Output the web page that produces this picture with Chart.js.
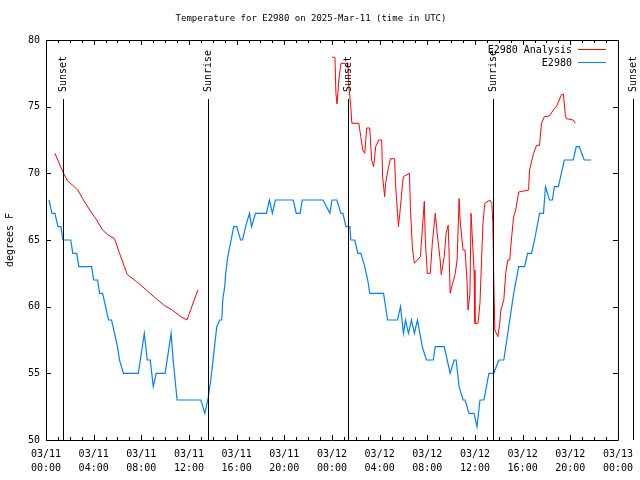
<!DOCTYPE html>
<html>
<head>
<meta charset="utf-8">
<script src="https://cdn.jsdelivr.net/npm/chart.js@4"></script>
<style>
  html, body { margin: 0; padding: 0; background: #fff; }
  canvas { display: block; }
</style>
</head>
<body>
<canvas id="chart" width="640" height="480"></canvas>
<script>
// hours since 03/11 00:00 UTC
const blueHours = [
  0.25, 0.5, 0.75, 1.0, 1.25, 1.42, 2.08, 2.25, 2.58, 2.75,
  3.83, 4.0, 4.33, 4.5, 4.75, 5.0, 5.25, 5.5, 5.75, 6.0,
  6.17, 6.5, 7.75, 8.25, 8.5, 8.75, 9.0, 9.25, 10.0, 10.5,
  10.67, 11.0, 13.0, 13.33, 13.58, 13.83, 14.08, 14.33, 14.58, 14.75,
  14.83, 15.0, 15.08, 15.25, 15.42, 15.58, 15.75, 16.0, 16.33, 16.5,
  16.75, 17.08, 17.25, 17.58, 18.5, 18.75, 19.0, 19.25, 20.75, 21.0,
  21.33, 21.5, 23.25, 23.83, 24.0, 24.42, 24.75, 24.92, 25.17, 25.5,
  25.58, 25.92, 26.17, 26.42, 26.75, 27.0, 27.17, 28.33, 28.67, 29.5,
  29.75, 30.0, 30.17, 30.42, 30.67, 30.92, 31.17, 31.58, 31.92, 32.5,
  32.67, 33.42, 33.67, 33.92, 34.25, 34.42, 34.67, 35.0, 35.17, 35.5,
  35.92, 36.17, 36.42, 36.75, 37.17, 37.58, 38.0, 38.42, 38.67, 38.92,
  39.25, 39.67, 40.17, 40.42, 40.75, 41.0, 41.42, 41.75, 41.92, 42.25,
  42.5, 42.67, 43.0, 43.5, 44.25, 44.5, 44.75, 45.17, 45.75
];
const blueTemps = [
  68, 67, 67, 66, 66, 65, 65, 64, 64, 63,
  63, 62, 62, 61, 61, 60, 59, 59, 58, 57,
  56, 55, 55, 58, 56, 56, 54, 55, 55, 58,
  56, 53, 53, 52, 53, 54.5, 56.5, 58.5, 59, 59,
  60.5, 61.5, 62.5, 63.7, 64.5, 65.2, 66, 66, 65, 65,
  66, 67, 66, 67, 67, 68, 67, 68, 68, 67,
  67, 68, 68, 67, 68, 68, 67, 67, 66, 66,
  65, 65, 64, 64, 63, 62, 61, 61, 59, 59,
  60, 58, 59, 58, 59, 58, 59, 57, 56, 56,
  57, 57, 56, 55, 56, 56, 54, 53, 53, 52,
  52, 51, 53, 53, 55, 55, 56, 56, 57.5, 59,
  61, 63, 63, 64, 64, 65, 67, 67, 69, 68,
  68, 69, 69, 71, 71, 72, 72, 71, 71
];

const redHours = [
  0.75, 1.42, 1.83, 2.25, 2.67, 3.08, 3.67, 4.25, 4.75, 5.17,
  5.75, 6.17, 6.58, 6.83, 7.58, 8.42, 9.25, 9.92, 10.58, 11.33,
  11.83, 12.75, 18.0, 24.0, 24.25, 24.33, 24.42, 24.58, 24.75, 25.08,
  25.25, 25.33, 25.42, 25.58, 25.67, 26.25, 26.42, 26.58, 26.75, 26.92,
  27.17, 27.33, 27.5, 27.67, 27.92, 28.17, 28.25, 28.42, 28.5, 28.75,
  28.92, 29.25, 29.33, 29.5, 29.58, 29.75, 29.92, 30.0, 30.5, 30.58,
  30.75, 30.92, 31.42, 31.58, 31.75, 31.83, 32.0, 32.25, 32.42, 32.67,
  32.83, 33.08, 33.17, 33.42, 33.58, 33.75, 33.83, 33.92, 34.08, 34.33,
  34.5, 34.67, 34.75, 35.0, 35.17, 35.33, 35.42, 35.58, 35.67, 35.92,
  36.0, 36.25, 36.42, 36.67, 36.83, 37.25, 37.42, 37.5, 37.58, 37.67,
  37.92, 38.08, 38.17, 38.42, 38.58, 38.75, 38.92, 39.08, 39.25, 39.42,
  39.67, 40.5, 40.58, 40.92, 41.17, 41.42, 41.58, 41.83, 42.25, 42.58,
  42.83, 43.08, 43.25, 43.42, 43.58, 43.67, 44.25, 44.42
];
const redTemps = [
  71.5, 70.1, 69.4, 69.1, 68.75, 68.1, 67.25, 66.5, 65.75, 65.4,
  65.1, 64, 63, 62.4, 61.9, 61.25, 60.6, 60.1, 59.75, 59.25,
  59, 61.25, null, 78.7, 78.7, 76, 75.2, 77, 78.25, 78.25,
  78.0, 78.25, 76.5, 75, 73.75, 73.75, 72.75, 71.75, 71.5, 73.4,
  73.4, 71, 70.5, 72, 72.5, 72.5, 69.75, 68.25, 69.25, 70.5,
  71.1, 71.1, 69.25, 67, 66, 67.5, 69.25, 69.75, 70, 67.5,
  64.4, 63.25, 63.75, 65.75, 67.9, 65, 62.5, 62.5, 64.75, 67,
  65.5, 63.5, 62.4, 63.75, 65.5, 66.1, 64, 61, 61.6, 62.4,
  63.5, 68.1, 66.5, 64.25, 64.25, 62, 59.75, 61, 67, 62.75,
  58.75, 58.75, 60.25, 66.25, 67.75, 68, 67.75, 66.25, 62, 58.25,
  57.75, 58.75, 59.75, 60.5, 62.5, 63.5, 63.5, 65.25, 66.75, 67.25,
  68.6, 68.75, 70.25, 71.5, 72.1, 72.1, 73.75, 74.25, 74.3, 74.75,
  75, 75.5, 75.9, 75.95, 74.4, 74.1, 74, 73.75
];

const sunHours = [1.42, 13.62, 25.33, 37.5, 49.3];
const sunLabels = ['Sunset', 'Sunrise', 'Sunset', 'Sunrise', 'Sunset'];
const dayLabels = ['03/11', '03/12', '03/13'];

const FONT = { family: '"DejaVu Sans Mono", monospace', size: 10 };
const CSS_FONT = '10px "DejaVu Sans Mono", monospace';

function hourLabel(v) {
  const day = dayLabels[Math.floor(v / 24)];
  const hh = String(v % 24).padStart(2, '0');
  return [day, hh + ':00'];
}

// box, inward ticks, sun lines, key
const gnuFrame = {
  id: 'gnuFrame',
  afterDatasetsDraw(chart) {
    const { ctx, chartArea: a, scales: { x } } = chart;
    ctx.save();
    ctx.strokeStyle = '#000';
    ctx.fillStyle = '#000';
    ctx.lineWidth = 1;
    ctx.font = CSS_FONT;
    sunHours.forEach((h, i) => {
      const px = Math.round(x.getPixelForValue(h)) + 0.5;
      ctx.beginPath();
      ctx.moveTo(px, a.top + 59);
      ctx.lineTo(px, a.bottom);
      ctx.stroke();
      ctx.save();
      ctx.translate(px, a.top + 52);
      ctx.rotate(-Math.PI / 2);
      ctx.textAlign = 'left';
      ctx.textBaseline = 'middle';
      ctx.fillText(sunLabels[i], 0, 0);
      ctx.restore();
    });
    ctx.restore();
  },
  afterDraw(chart) {
    const { ctx, chartArea: a, scales: { x, y } } = chart;
    ctx.save();
    ctx.strokeStyle = '#000';
    ctx.lineWidth = 1;
    ctx.beginPath();
    ctx.rect(a.left + 0.5, a.top + 0.5, a.right - a.left, a.bottom - a.top);
    for (let h = 0; h <= 48; h++) {
      const px = Math.round(x.getPixelForValue(h)) + 0.5;
      const len = h % 4 === 0 ? 5 : 3;
      ctx.moveTo(px, a.bottom);
      ctx.lineTo(px, a.bottom - len);
      ctx.moveTo(px, a.top);
      ctx.lineTo(px, a.top + len);
    }
    y.ticks.forEach(t => {
      const py = Math.round(y.getPixelForValue(t.value)) + 0.5;
      ctx.moveTo(a.left, py);
      ctx.lineTo(a.left + 5, py);
      ctx.moveTo(a.right, py);
      ctx.lineTo(a.right - 5, py);
    });
    ctx.stroke();

    // key
    ctx.font = CSS_FONT;
    ctx.textAlign = 'right';
    ctx.textBaseline = 'middle';
    chart.data.datasets.forEach((ds, i) => {
      const ky = a.top + 9 + i * 13;
      ctx.fillStyle = '#000';
      ctx.fillText(ds.label, a.right - 46, ky + 1);
      ctx.strokeStyle = ds.borderColor;
      ctx.beginPath();
      ctx.moveTo(a.right - 40, ky + 0.5);
      ctx.lineTo(a.right - 12, ky + 0.5);
      ctx.stroke();
    });
    ctx.restore();
  }
};

new Chart(document.getElementById('chart'), {
  type: 'line',
  data: {
    datasets: [
      {
        label: 'E2980 Analysis',
        data: redHours.map((h, i) => ({ x: h, y: redTemps[i] })),
        borderColor: '#ff0000',
        borderWidth: 1,
        pointRadius: 0,
        tension: 0,
        spanGaps: false
      },
      {
        label: 'E2980',
        data: blueHours.map((h, i) => ({ x: h, y: blueTemps[i] })),
        borderColor: '#0080ff',
        borderWidth: 1.2,
        pointRadius: 0,
        tension: 0
      }
    ]
  },
  options: {
    responsive: false,
    animation: false,
    layout: { padding: { left: 0, right: 18, top: 0, bottom: 0 } },
    plugins: {
      legend: { display: false },
      tooltip: { enabled: false },
      title: {
        display: true,
        text: 'Temperature for E2980 on 2025-Mar-11 (time in UTC)',
        color: '#000',
        font: { family: FONT.family, size: 9, weight: 'normal' },
        padding: { top: 13.6, bottom: 15.6 }
      }
    },
    scales: {
      x: {
        type: 'linear',
        min: 0,
        max: 48,
        afterFit: s => { s.height = 40; },
        grid: { display: false, drawTicks: false },
        border: { display: false },
        ticks: {
          stepSize: 4,
          padding: 7,
          autoSkip: false,
          maxRotation: 0,
          color: '#000',
          font: { ...FONT, lineHeight: 1.4 },
          callback: v => hourLabel(v)
        }
      },
      y: {
        min: 50,
        max: 80,
        afterFit: s => { s.width = 46; },
        grid: { display: false, drawTicks: false },
        border: { display: false },
        ticks: { stepSize: 5, padding: 6, color: '#000', font: FONT },
        title: {
          display: true,
          text: 'degrees F',
          color: '#000',
          font: FONT,
          padding: { top: 4, bottom: 0 }
        }
      }
    }
  },
  plugins: [gnuFrame]
});
</script>
</body>
</html>
